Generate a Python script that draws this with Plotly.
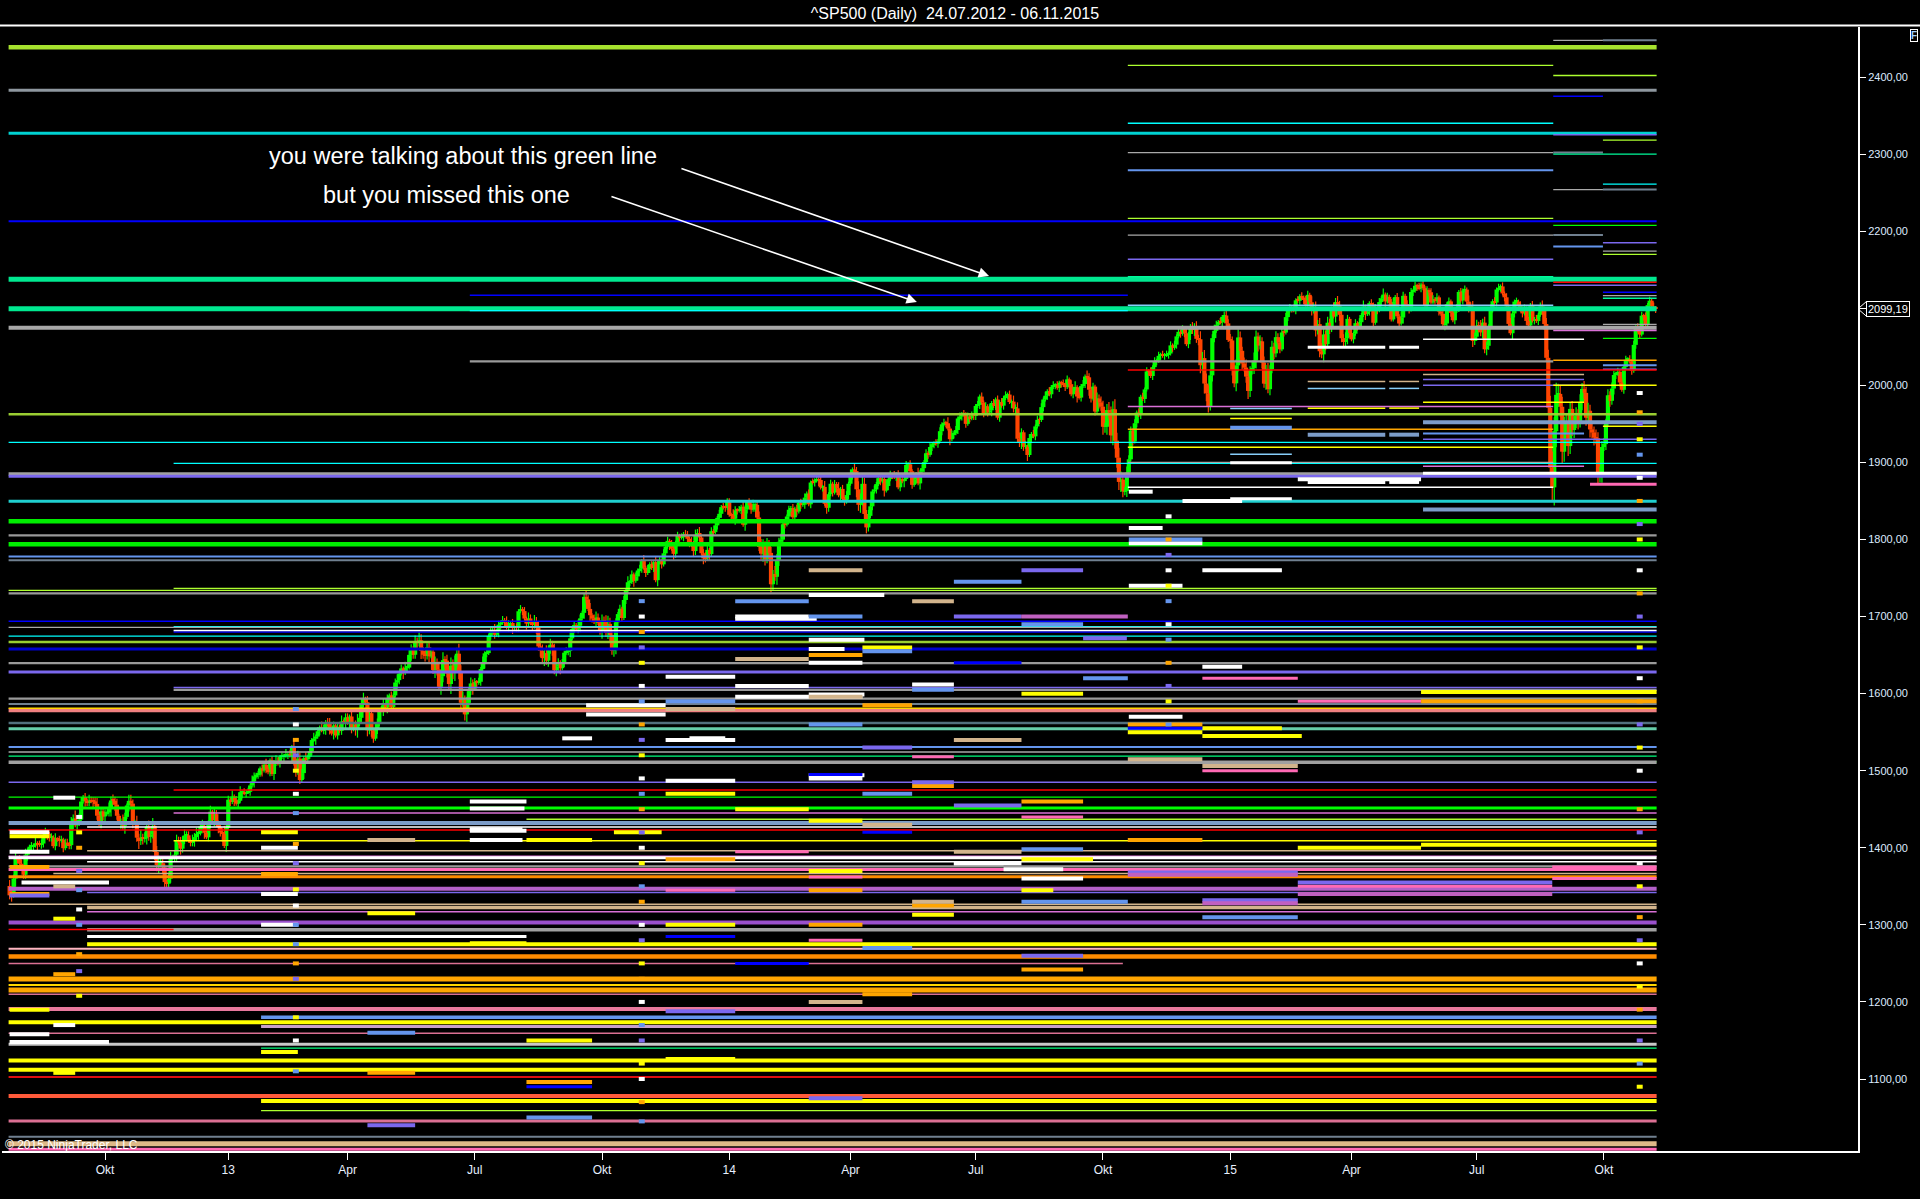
import pandas as pd
import plotly.graph_objects as go

# ---------------- data ----------------
START, END = "2012-07-24", "2015-11-06"
HOLIDAYS = ["2012-09-03", "2012-10-29", "2012-10-30", "2012-11-22", "2012-12-25",
            "2013-01-01", "2013-01-21", "2013-02-18", "2013-03-29", "2013-05-27", "2013-07-04",
            "2013-09-02", "2013-11-28", "2013-12-25",
            "2014-01-01", "2014-01-20", "2014-02-17", "2014-04-18", "2014-05-26", "2014-07-04",
            "2014-09-01", "2014-11-27", "2014-12-25",
            "2015-01-01", "2015-01-19", "2015-02-16", "2015-04-03", "2015-05-25", "2015-07-03",
            "2015-09-07"]

FIRST_OPEN = 1350.5
CLOSE_2012 = [
    1338.3, 1337.9, 1360.0, 1386.0, 1385.3, 1379.3,
    1375.1, 1365.0, 1391.0, 1394.2, 1401.4, 1402.2, 1402.8, 1405.9, 1404.1, 1403.9, 1405.5, 1415.5,
    1418.2, 1418.1, 1413.2, 1413.5, 1402.1, 1411.1, 1410.4, 1409.3, 1410.5, 1399.5, 1406.6,
    1404.9, 1403.4, 1432.1, 1437.9, 1429.1, 1433.6, 1436.6, 1460.0, 1465.8, 1461.2, 1459.3, 1461.1,
    1460.3, 1460.2, 1456.9, 1441.6, 1433.3, 1447.2, 1440.7,
    1444.5, 1445.8, 1451.0, 1461.4, 1460.9, 1455.9, 1441.5, 1432.6, 1432.8, 1428.6, 1440.1, 1454.9,
    1460.9, 1457.3, 1433.2, 1433.8, 1413.1, 1408.8, 1413.0, 1411.9, 1412.2,
    1427.6, 1414.2, 1417.3, 1428.4, 1394.5, 1377.5, 1379.9, 1380.0, 1374.5, 1355.5, 1353.3, 1359.9,
    1386.9, 1387.8, 1391.0, 1409.2, 1406.3, 1398.9, 1409.9, 1416.0, 1416.2,
    1409.5, 1407.1, 1409.3, 1413.9, 1418.1, 1418.6, 1427.8, 1428.5, 1419.5, 1413.6, 1430.4, 1446.8,
    1435.8, 1443.7, 1430.2, 1426.7, 1419.8, 1418.1, 1402.4, 1426.2]
CLOSE_2013 = [
    1462.4, 1459.4, 1466.5, 1461.9, 1457.2, 1461.0, 1472.1, 1472.1, 1470.7, 1472.3, 1472.6, 1480.9,
    1486.0, 1492.6, 1494.8, 1494.8, 1503.0, 1500.2, 1507.8, 1502.0, 1498.1,
    1513.2, 1495.7, 1511.3, 1512.1, 1509.4, 1517.9, 1518.0, 1519.4, 1520.3, 1521.4, 1519.8, 1530.9,
    1512.0, 1502.4, 1515.6, 1487.9, 1496.9, 1516.0, 1514.7,
    1518.2, 1525.2, 1539.8, 1541.5, 1544.3, 1551.2, 1556.2, 1552.5, 1554.5, 1563.2, 1560.7, 1552.1,
    1548.3, 1558.7, 1545.8, 1556.9, 1551.7, 1563.8, 1562.9, 1569.2,
    1562.2, 1570.3, 1553.7, 1560.0, 1553.3, 1563.1, 1568.6, 1587.7, 1593.4, 1588.9, 1552.4, 1574.6,
    1552.0, 1541.6, 1555.3, 1562.5, 1578.8, 1578.8, 1585.2, 1582.2, 1593.6, 1597.6,
    1582.7, 1597.6, 1614.4, 1617.5, 1626.0, 1632.7, 1626.7, 1633.7, 1633.8, 1650.3, 1658.8, 1650.5,
    1667.5, 1666.3, 1669.2, 1655.4, 1650.5, 1649.6, 1660.1, 1648.4, 1654.4, 1630.7,
    1640.4, 1631.4, 1608.9, 1622.6, 1643.4, 1642.8, 1626.1, 1612.5, 1636.4, 1626.7, 1639.0, 1651.8,
    1628.9, 1588.2, 1592.4, 1573.1, 1588.0, 1603.3, 1613.2, 1606.3,
    1615.0, 1614.1, 1615.4, 1631.9, 1640.5, 1652.3, 1652.6, 1675.0, 1680.2, 1682.5, 1676.3, 1680.9,
    1689.4, 1692.1, 1695.5, 1692.4, 1685.9, 1690.3, 1691.7, 1685.3, 1686.0, 1685.7,
    1706.9, 1709.7, 1707.1, 1697.4, 1690.9, 1697.5, 1691.4, 1689.5, 1694.2, 1685.4, 1661.3, 1655.8,
    1646.1, 1652.4, 1642.8, 1657.0, 1663.5, 1656.8, 1630.5, 1635.0, 1638.2, 1633.0,
    1639.8, 1653.1, 1655.1, 1655.2, 1671.7, 1684.0, 1689.1, 1683.4, 1688.0, 1697.6, 1704.8, 1725.5,
    1722.3, 1709.9, 1701.8, 1697.4, 1692.8, 1698.7, 1691.8, 1681.6,
    1695.0, 1693.9, 1678.7, 1690.5, 1676.1, 1655.5, 1656.4, 1692.6, 1703.2, 1710.1, 1698.1, 1721.5,
    1733.2, 1744.5, 1744.7, 1754.7, 1746.4, 1752.1, 1759.8, 1762.1, 1772.0, 1763.3, 1756.5,
    1761.6, 1767.9, 1763.0, 1770.5, 1747.2, 1770.6, 1771.9, 1767.7, 1782.0, 1790.6, 1798.2, 1791.5,
    1787.9, 1781.4, 1795.9, 1804.8, 1802.5, 1802.8, 1807.2, 1805.8,
    1800.9, 1795.2, 1792.8, 1785.0, 1805.1, 1808.4, 1802.6, 1782.2, 1775.5, 1775.3, 1786.5, 1781.0,
    1810.7, 1809.6, 1818.3, 1828.0, 1833.3, 1842.0, 1841.4, 1841.1, 1848.4]
CLOSE_2014 = [
    1832.0, 1831.4, 1826.8, 1837.9, 1837.5, 1838.1, 1842.4, 1819.2, 1838.9, 1848.4, 1845.9, 1838.7,
    1843.8, 1844.9, 1828.5, 1790.3, 1781.6, 1792.5, 1774.2, 1794.2, 1782.6,
    1741.9, 1755.2, 1751.6, 1773.4, 1797.0, 1799.8, 1819.8, 1819.3, 1829.8, 1838.6, 1840.8, 1828.8,
    1839.8, 1836.3, 1847.6, 1845.1, 1845.2, 1854.3, 1859.5,
    1845.7, 1873.9, 1873.8, 1877.0, 1878.0, 1877.2, 1867.6, 1868.2, 1846.3, 1841.1, 1858.8, 1872.3,
    1860.8, 1872.0, 1866.5, 1857.4, 1865.6, 1852.6, 1849.0, 1857.6, 1872.3,
    1885.5, 1890.9, 1888.8, 1865.1, 1845.0, 1852.0, 1872.2, 1833.1, 1815.7, 1830.6, 1843.0, 1862.3,
    1864.9, 1871.9, 1879.6, 1875.4, 1878.6, 1863.4, 1869.4, 1878.3, 1884.0,
    1883.7, 1881.1, 1884.7, 1867.7, 1878.2, 1875.6, 1878.5, 1896.7, 1897.5, 1888.5, 1870.9, 1877.9,
    1885.1, 1872.8, 1888.0, 1892.5, 1900.5, 1911.9, 1909.8, 1920.0, 1923.6,
    1925.0, 1924.2, 1927.9, 1940.5, 1949.4, 1951.3, 1950.8, 1943.9, 1930.1, 1936.2, 1937.8, 1942.0,
    1957.0, 1959.5, 1962.9, 1962.6, 1950.0, 1959.5, 1957.2, 1961.0, 1960.2,
    1973.3, 1974.6, 1985.4, 1977.7, 1963.7, 1972.8, 1964.7, 1967.6, 1977.1, 1973.3, 1981.6, 1958.1,
    1978.2, 1973.6, 1983.5, 1987.0, 1988.0, 1978.3, 1978.9, 1970.0, 1970.1, 1930.7,
    1925.2, 1939.0, 1920.2, 1920.2, 1909.6, 1931.6, 1936.9, 1933.8, 1946.7, 1955.2, 1955.1, 1971.7,
    1981.6, 1986.5, 1992.4, 1988.4, 1997.9, 2000.0, 2000.1, 1996.7, 2003.4,
    2002.3, 2000.7, 1997.7, 2007.7, 2001.5, 1988.4, 1995.7, 1997.5, 1985.5, 1984.1, 1999.0, 2001.6,
    2011.4, 2010.4, 1994.3, 1982.8, 1998.3, 1966.0, 1982.9, 1977.8, 1972.3,
    1946.2, 1946.2, 1967.9, 1964.8, 1935.1, 1968.9, 1928.2, 1906.1, 1874.7, 1877.7, 1862.5, 1862.8,
    1886.8, 1904.0, 1941.3, 1927.1, 1950.8, 1964.6, 1961.6, 1985.1, 1982.3, 1994.7, 2018.1,
    2017.8, 2012.1, 2023.6, 2031.2, 2032.0, 2038.3, 2039.7, 2038.3, 2039.3, 2039.8, 2041.3, 2051.8,
    2048.7, 2052.8, 2063.5, 2069.4, 2067.0, 2072.8, 2067.6,
    2053.4, 2066.6, 2074.3, 2071.9, 2075.4, 2060.3, 2059.8, 2026.1, 2035.3, 2002.3, 1989.6, 1972.7,
    2012.9, 2061.2, 2070.7, 2078.5, 2082.2, 2081.9, 2088.8, 2090.6, 2080.4, 2058.9]
CLOSE_2015 = [
    2058.2, 2020.6, 2002.6, 2025.9, 2062.1, 2044.8, 2028.3, 2023.0, 2011.3, 1992.7, 2019.4, 2022.6,
    2032.1, 2063.2, 2051.8, 2057.1, 2029.6, 2002.2, 2021.3, 1995.0,
    2020.9, 2050.0, 2041.5, 2062.5, 2055.5, 2046.7, 2068.6, 2068.5, 2088.5, 2097.0, 2100.3, 2099.7,
    2097.5, 2110.3, 2109.7, 2115.5, 2113.9, 2110.7, 2104.5,
    2117.4, 2107.8, 2098.5, 2101.0, 2071.3, 2079.4, 2044.2, 2040.2, 2066.0, 2053.4, 2081.2, 2074.3,
    2099.5, 2089.3, 2108.1, 2104.4, 2091.5, 2061.1, 2056.2, 2061.0, 2086.2, 2067.9,
    2059.7, 2067.0, 2080.6, 2076.3, 2081.9, 2091.2, 2102.1, 2092.4, 2095.8, 2106.6, 2105.0, 2081.2,
    2100.4, 2097.3, 2108.0, 2112.9, 2117.7, 2108.9, 2114.8, 2106.9, 2085.5,
    2108.3, 2114.5, 2089.5, 2080.2, 2088.0, 2116.1, 2105.3, 2099.9, 2098.5, 2121.1, 2122.7, 2129.2,
    2127.8, 2125.9, 2130.8, 2126.1, 2104.2, 2123.5, 2120.8, 2107.4,
    2111.7, 2109.6, 2114.1, 2095.8, 2092.8, 2079.3, 2080.2, 2105.2, 2108.9, 2094.1, 2084.4, 2096.3,
    2100.4, 2121.2, 2110.0, 2122.9, 2124.2, 2108.6, 2102.3, 2101.5, 2057.6, 2063.1,
    2077.4, 2076.8, 2068.8, 2081.3, 2046.7, 2051.3, 2076.6, 2099.6, 2109.0, 2107.4, 2124.3, 2126.6,
    2128.3, 2119.2, 2114.2, 2102.2, 2079.7, 2067.6, 2093.3, 2108.6, 2108.6, 2103.8,
    2098.0, 2093.3, 2099.8, 2083.6, 2077.6, 2104.2, 2084.1, 2086.1, 2083.4, 2091.5, 2102.4, 2096.9,
    2079.6, 2035.7, 1970.9, 1893.2, 1867.6, 1940.5, 1987.7, 1988.9, 1972.2,
    1913.9, 1948.9, 1951.1, 1921.2, 1969.4, 1942.0, 1952.3, 1961.1, 1953.0, 1978.1, 1995.3, 1990.2,
    1958.0, 1967.0, 1942.7, 1938.8, 1932.2, 1931.3, 1881.8, 1884.1, 1920.0,
    1923.8, 1951.4, 1987.1, 1979.9, 1995.8, 2013.4, 2014.9, 2017.5, 2003.7, 1994.2, 2023.9, 2033.1,
    2033.7, 2030.8, 2018.9, 2052.5, 2075.2, 2071.2, 2065.9, 2090.4, 2089.4, 2079.4,
    2104.1, 2109.8, 2102.3, 2099.9, 2099.19]

# wick sizes above / below the body, one digit per bar (unit: WICK_UNIT points)
WICK_UNIT = 2.6
WICK_UP = [
    "342312" "21321213122132121312212" "2132413212132223122" "213232312421332132423"
    "232423432213312323232" "21323213222313223242",
    "213121312121321212131" "1213212131213243213" "12131213212312121312" "2131243231322132123121"
    "2123121313213243232321" "32434232434353423232" "2121312121312121321212" "1212132132323242323232"
    "21213121321232312321" "32343232121213121212131" "21213121212132121212" "213232312321212121212",
    "213212132121312343232" "3243231212121212121" "212131213212121312121" "213243432321212121312"
    "121213121212131212121" "121212131212121212121" "1212121312121212121323" "321312121212121212121"
    "121212131212132121323" "32343454543232212121212" "1212121212121212121" "2123232434543232121232",
    "32434323432343232323" "2323212121212121212" "2132323432321323232321" "212121312121212131212"
    "21213212121212121212" "2121232121212121213232" "3232321212121212132121" "212121212123234687654"
    "545434343434343434343" "3232321212121212121212" "12121"]
WICK_DN = [
    "231423" "12231221312213221213121" "1223132213221312232" "312423213241323124232"
    "323243423323212313223" "12232312312223132413",
    "121312131212131213121" "2132121312132432132" "21213121231213121213" "1321342321323213213231"
    "1213213121322324232312" "43243423534243234323" "1212132121213212121312" "2121321323232423232323"
    "12123121231321321312" "43234232312121213121212" "12121312121213212121" "321323213213121212121",
    "121321213212131234323" "4324321212121212121" "121213121321212131212" "132434343212121213121"
    "212121312121213121212" "212121213121212121212" "2121212131212121213232" "232131212121212121212"
    "212121213121213212132" "43434545453232121212121" "2121212121212121212" "1232323435432321212321",
    "43243432343234323232" "3232121212121212121" "1232323243232132323232" "121212131212121213121"
    "12121321212121212121" "1212123212121212123232" "2323232121212121213212" "121212121212323579865"
    "654543434343434343434" "2323232121212121212121" "21212"]

Y_TICKS = [1100, 1200, 1300, 1400, 1500, 1600, 1700, 1800, 1900, 2000, 2100, 2200, 2300, 2400]
MONTH_LABELS = {4: "Apr", 7: "Jul", 10: "Okt"}

TITLE = "^SP500 (Daily)\u00a0 24.07.2012 - 06.11.2015"
NOTE_1 = "you were talking about this green line"
NOTE_2 = "but you missed this one"
COPYRIGHT = "© 2015 NinjaTrader, LLC"

# horizontal level lines: (price, first bar, last bar), grouped by style key
A, E = -0.5, 828.5
SEGMENTS = {
    "gy_top": [(2438.5, A, E)],
    "gray_a": [(2382.7, A, E)],
    "cyan_a": [(2327, A, E)],
    "blue_a": [(2212.8, A, E)],
    "msg_a": [(2137.5, A, E), (2099.4, A, E)],
    "gray_b": [(2074.8, A, E)],
    "yg": [(1962.4, A, E), (1667, A, E)],
    "yg_t": [(2415, 562.5, 776.5), (2402, 776.5, E), (2318, 801.5, E), (2216.7, 562.5, 776.5),
             (2170, 801.5, E), (1736.6, 82.5, E), (1734, A, E), (1059, 126.5, E), (1437, 260, E)],
    "cyan_t": [(2340, 562.5, 776.5), (2261, 801.5, E), (2097, 231.5, 562.5), (1926, A, E),
               (1898.8, 82.5, E), (1687, 82.5, E), (1674.6, A, E)],
    "turq": [(1849.5, A, E)],
    "lime_k": [(1823.6, A, E), (1793.7, A, E)],
    "lime_m": [(1451.6, A, E)],
    "lime_t": [(2207.6, 776.5, E), (2061, 801.5, E), (1511.5, 82.5, E), (1465.6, A, E)],
    "gray_m": [(1805.4, A, E), (1730, A, E), (1639.7, A, E), (1593.5, A, E), (1605, 82.5, E),
               (2031, 231.5, 776.5), (1376, A, E)],
    "gray_t": [(2447.6, 776.5, 801.5), (2302, 562.5, 776.5), (2254, 776.5, 801.5), (2195, 562.5, 776.5),
               (2174, 801.5, E), (2116.3, 801.5, E), (2079, 801.5, E), (1686, A, E), (1524.3, A, E),
               (1900, 562.5, 776.5)],
    "gray_k": [(1885, A, E), (1511, A, E), (1293.7, 39, E)],
    "slg": [(1773, A, E), (1586.7, A, E), (1025, A, E), (2447.6, 801.5, E), (2302, 776.5, 801.5),
            (2195, 776.5, 801.5), (2254, 801.5, E)],
    "corn": [(1778, A, E), (1530.8, A, E), (2279, 562.5, 776.5), (2180, 776.5, 801.5), (2026, 801.5, E),
             (1937.6, 711, 792)],
    "slate": [(1882, A, E), (1628, A, E)],
    "slate_t": [(2325, 776.5, E), (2185, 801.5, E), (2163.5, 562.5, 776.5), (2129.8, 776.5, E),
                (2021, 801.5, E), (1608, 82.5, E), (1485, A, E), (2007.6, 711, 792), (2000, 711, 792),
                (1930, 711, E), (1342, 39, E)],
    "blue_t": [(2375, 776.5, 801.5), (2120.7, 801.5, E), (2117, 231.5, 562.5), (1680, 82.5, E),
               (1694, A, E)],
    "mblue": [(1658, A, E)],
    "msg_t": [(2300, 776.5, E), (2141, 562.5, 776.5), (2113, 801.5, E)],
    "lblue_t": [(2103.8, 562.5, 776.5), (1996, 653, 692), (1996, 694, 709), (1970, 614, 645),
                (1910.6, 614, 645)],
    "red_t": [(2133.6, 776.5, E), (2020, 562.5, E), (1475, 82.5, E), (1423, A, E), (1293.9, A, 82.5)],
    "orchid_t": [(2071, 776.5, E), (1972.6, 562.5, 776.5), (1895, 711, 792), (1445, 82.5, E),
                 (1317, 39, E), (1389, A, E)],
    "white_t": [(2059.7, 711, 792), (1682, 82.5, E), (1867.7, 562.5, 776.5), (1427, 39, E),
                (1382, 39, E)],
    "white_k": [(2049.4, 653, 692), (2049.4, 694, 709), (1886, 711, E), (1874, 653, 692),
                (1874, 694, 709), (1853, 614, 645), (1899.7, 614, 645), (1387, A, E), (1285, 39, 260)],
    "orange_t": [(2032.5, 776.5, E), (1943, 562.5, 776.5)],
    "yellow_t": [(2000, 776.5, E), (1970.4, 653, 692), (1970.4, 694, 709), (1957, 614, 645),
                 (1947, 801.5, E), (1919.6, 562.5, 776.5), (1978, 711, 792), (1409, 82.5, E)],
    "tan_t": [(2014, 711, 792), (2005, 653, 692), (2005, 694, 709), (1326.7, A, E), (1396, 39, E),
              (1366.6, 22, E)],
    "lsb": [(1952, 711, E), (1936, 653, 692), (1936, 694, 709), (1839, 711, E), (1432, A, E)],
    "lcoral": [(1578.4, A, E)],
    "gold_t": [(1581, A, E)],
    "dslate": [(1562, A, E)],
    "maq": [(1554.5, A, E)],
    "sg_t": [(1519, A, E), (1140, 126.5, E)],
    "hotpink": [(1371.8, A, E), (1871.6, 795, E)],
    "dorange": [(1362.3, A, E)],
    "violet": [(1346.7, A, E)],
    "tan_k": [(1322.4, 39, E)],
    "morchid": [(1303, A, E)],
    "lpink": [(1269, A, E)],
    "dorange_k": [(1258.8, A, E)],
    "orange_k": [(1229.6, A, E), (1215.6, A, E)],
    "gold": [(1222, A, E)],
    "pvred_t": [(1210, A, E), (1159.5, A, E), (1250, A, 560)],
    "pink_k": [(1190.7, A, E)],
    "yellow_k": [(1173.8, A, E), (1124, A, E), (1112, A, E), (1275, 39, E), (1071.5, 126.5, E),
                 (1404, 710, E)],
    "silver": [(1145.2, A, E)],
    "red_m": [(1102.5, A, E)],
    "ored": [(1078, A, E)],
    "pvred": [(1045.5, A, E)],
    "burly": [(1016, A, E)],
    "hpink_k": [(1009, A, E)],
    "corn_k": [(1180, 126.5, E)],
    "plum": [(1168, 126.5, E)],
    "white_d": [(1700, 365, 402), (1596, 365, 429), (1542, 278, 293), (1460, 231.5, 260),
                (1422, 231.5, 260), (1410, 231.5, 258), (1640, 402, 429), (1612, 454, 475),
                (1658, 402, 420), (1728, 402, 440), (1400, 126.5, 145), (1340, 126.5, 145),
                (1355, 6, 50), (1148, 0, 50), (1380, 475, 509), (1360, 509, 540), (1573, 290, 330),
                (1540, 330, 365), (1490, 402, 429), (1610, 365, 402), (1622, 330, 365),
                (1697, 365, 406), (1670, 402, 430), (1599, 402, 430), (1542, 342, 360),
                (1494, 402, 430), (1451, 231.5, 259), (1424, 231.5, 258), (1380, 475, 500),
                (1372, 500, 530), (1850, 590, 620), (1862, 563, 575), (1878, 648, 710),
                (1815, 563, 580), (1795, 563, 600), (1760, 600, 640), (1740, 563, 590),
                (1635, 600, 620), (1570, 563, 590), (1585, 290, 330), (1487, 330, 365),
                (1300, 126.5, 145), (1420, 0, 20), (1395, 0, 20), (1158, 0, 20), (1170, 22, 33),
                (1465, 22, 33)],
    "yellow_d": [(1410, 260, 293), (1420, 304, 328), (1470, 330, 365), (1450, 365, 402),
                 (1345, 509, 525), (1313, 454, 475), (1370, 402, 429), (1550, 562.5, 600),
                 (1545, 600, 650), (1400, 648, 710), (1126, 330, 365), (1135, 126.5, 145),
                 (1420, 126.5, 145), (1315, 180, 204), (1276, 231.5, 260), (1602, 710, E),
                 (1660, 429, 454), (1600, 509, 540), (1555, 600, 640), (1435, 402, 429),
                 (1385, 509, 545), (1300, 330, 365), (1150, 260, 293), (1415, 0, 20), (1308, 22, 33),
                 (1190, 0, 20), (1108, 22, 33)],
    "orange_d": [(1385, 330, 365), (1345, 402, 429), (1210, 429, 454), (1325, 454, 475),
                 (1560, 562.5, 600), (1242, 509, 540), (1096, 260, 293), (1108, 180, 204),
                 (1366, 126.5, 145), (1590, 710, E), (1650, 402, 429), (1585, 429, 454),
                 (1480, 454, 475), (1460, 509, 540), (1410, 562.5, 600), (1300, 402, 429),
                 (1375, 0, 20), (1236, 22, 33), (1340, 0, 20)],
    "blue_d": [(1495, 402, 429), (1420, 429, 454), (1555, 562.5, 600), (1640, 475, 509),
               (1285, 330, 365), (1250, 365, 402), (1090, 260, 293)],
    "corn_d": [(1700, 402, 429), (1655, 429, 454), (1605, 454, 475), (1330, 509, 562.5),
               (1270, 429, 454), (1590, 330, 365), (1720, 365, 402), (1160, 180, 204), (1050, 260, 293),
               (1745, 475, 509), (1690, 509, 540), (1620, 540, 562.5), (1560, 402, 429),
               (1470, 429, 454), (1398, 509, 540), (1310, 600, 648), (1800, 563, 600), (1945, 614, 645)],
    "tan_d": [(1580, 330, 365), (1645, 365, 402), (1596, 402, 429), (1515, 562.5, 600),
              (1506, 600, 648), (1200, 402, 429), (1410, 180, 204), (1330, 454, 475),
              (1760, 402, 429), (1720, 454, 475), (1540, 475, 509), (1430, 429, 454),
              (1395, 475, 509), (1350, 22, 33)],
    "pink_d": [(1518, 454, 475), (1395, 365, 402), (1345, 330, 365), (1280, 402, 429),
               (1590, 648, 710), (1350, 648, 776), (1375, 776, E), (1360, 776, E),
               (1700, 509, 560), (1620, 600, 648), (1500, 600, 648), (1440, 509, 540), (1362, 402, 429)],
    "slate_d": [(1530, 429, 454), (1700, 475, 509), (1368, 562.5, 648), (1355, 648, 776),
                (1332, 600, 648), (1188, 330, 365), (1075, 402, 429), (1040, 180, 204),
                (1760, 509, 540), (1672, 540, 562), (1485, 454, 475), (1455, 475, 509),
                (1260, 509, 540), (1338, 0, 20)],
    "orchid_d": [(1328, 600, 648), (1365, 562.5, 648), (1340, 648, 776), (1700, 509, 562.5)],
}

# short pivot marks: (bar, price)
DOTS = {
    "white": [(35, 1440), (35, 1320), (144, 1560), (144, 1470), (144, 1325), (144, 1150), (318, 1700),
              (318, 1610), (318, 1490), (318, 1400), (318, 1300), (318, 1200), (318, 1100), (583, 1830),
              (583, 1760), (583, 1690), (820, 1990), (820, 1880), (820, 1760), (820, 1620), (820, 1500),
              (820, 1380), (820, 1250)],
    "orange": [(35, 1400), (35, 1262), (144, 1540), (144, 1405), (144, 1250), (318, 1680), (318, 1560),
               (318, 1450), (318, 1330), (318, 1230), (318, 1070), (583, 1800), (583, 1640), (820, 1965),
               (820, 1850), (820, 1730), (820, 1590), (820, 1450), (820, 1310), (820, 1190)],
    "slate": [(35, 1370), (35, 1240), (144, 1520), (144, 1380), (144, 1230), (318, 1660), (318, 1540),
              (318, 1420), (318, 1280), (318, 1150), (583, 1780), (583, 1610), (820, 1950), (820, 1820),
              (820, 1700), (820, 1560), (820, 1420), (820, 1280), (820, 1150)],
    "yellow": [(35, 1420), (35, 1208), (144, 1500), (144, 1346), (144, 1180), (318, 1640), (318, 1520),
               (318, 1380), (318, 1250), (318, 1120), (583, 1740), (583, 1590), (820, 1930), (820, 1800),
               (820, 1660), (820, 1530), (820, 1350), (820, 1220), (820, 1090)],
    "corn": [(35, 1345), (35, 1300), (144, 1580), (144, 1445), (144, 1300), (144, 1275), (144, 1110),
             (318, 1720), (318, 1590), (318, 1470), (318, 1350), (318, 1170), (318, 1045), (583, 1720),
             (583, 1670), (583, 1560), (820, 1910), (820, 1120)],
}

# ---------------- styles ----------------
STYLES = {
    "gy_top": ("#A6E22E", 4.5), "gray_a": ("#8E979F", 3), "cyan_a": ("#00D2D2", 3),
    "blue_a": ("#0000FF", 2), "msg_a": ("#00E890", 5), "gray_b": ("#A8A8A8", 4),
    "yg": ("#9ACD32", 2.5), "yg_t": ("#ADFF2F", 1.3), "cyan_t": ("#00FFFF", 1.3),
    "turq": ("#20D0D0", 3), "lime_k": ("#00EE00", 4.5), "lime_m": ("#00FF00", 3),
    "lime_t": ("#00FF00", 1.3), "gray_m": ("#9A9A9A", 2.2), "gray_t": ("#A9A9A9", 1.3),
    "gray_k": ("#A0A0A0", 3.5), "slg": ("#708090", 2), "corn": ("#6495ED", 2),
    "slate": ("#7B68EE", 3), "slate_t": ("#7B68EE", 1.5), "blue_t": ("#0000FF", 1.5),
    "mblue": ("#0000CD", 3), "msg_t": ("#00FA9A", 1.3), "lblue_t": ("#87CEFA", 1.5),
    "red_t": ("#FF0000", 1.5), "orchid_t": ("#DA70D6", 1.5), "white_t": ("#FFFFFF", 1.5),
    "white_k": ("#FFFFFF", 3), "orange_t": ("#FFA500", 1.5), "yellow_t": ("#FFFF00", 1.5),
    "tan_t": ("#D2B48C", 1.5), "lsb": ("#7C9CC8", 4), "lcoral": ("#F08080", 4),
    "gold_t": ("#FFD700", 1.5), "dslate": ("#52707E", 2.5), "maq": ("#66CDAA", 3),
    "sg_t": ("#00FF7F", 1.3), "hotpink": ("#FF69B4", 3), "dorange": ("#FF8C00", 3),
    "violet": ("#B460C8", 4), "tan_k": ("#D2B48C", 3.5), "morchid": ("#9A50CC", 4),
    "lpink": ("#FFB6C1", 2), "dorange_k": ("#FF8C00", 4.5), "orange_k": ("#FFA500", 5),
    "gold": ("#FFD700", 2), "pvred_t": ("#DB7093", 1.5), "pink_k": ("#E8789C", 4),
    "yellow_k": ("#FFFF00", 4), "silver": ("#C8C8C8", 3), "red_m": ("#DD1010", 2),
    "ored": ("#FF5A3A", 4), "pvred": ("#DB7093", 3), "burly": ("#DEB887", 5),
    "hpink_k": ("#FF69B4", 3), "corn_k": ("#6495ED", 3.5), "plum": ("#C8A0C8", 3),
    "white_d": ("#FFFFFF", 4), "yellow_d": ("#FFFF00", 4), "orange_d": ("#FFA500", 4),
    "blue_d": ("#0000FF", 3), "corn_d": ("#6495ED", 4), "tan_d": ("#D2B48C", 4),
    "pink_d": ("#FF69B4", 3), "slate_d": ("#7B68EE", 4), "orchid_d": ("#C060C0", 4),
}
DOT_STYLES = {"white": "#FFFFFF", "orange": "#FFA500", "slate": "#7B68EE", "yellow": "#FFFF00",
              "corn": "#6495ED"}
DOT_LEN, DOT_W = 1.5, 4
FONT = "Arial, 'Liberation Sans', sans-serif"
UP_COLOR, DOWN_COLOR = "#00FF00", "#FF4500"
BODY_W = 2.1          # candle body width in bars
MIN_BODY = 1.2        # minimum drawn body height (points)

# ---------------- build ----------------
closes = CLOSE_2012 + CLOSE_2013 + CLOSE_2014 + CLOSE_2015
up = "".join(WICK_UP)
dn = "".join(WICK_DN)
dates = [d for d in pd.bdate_range(START, END) if d.strftime("%Y-%m-%d") not in HOLIDAYS]
assert len(dates) == len(closes) == len(up) == len(dn), (len(dates), len(closes), len(up), len(dn))

opens = [FIRST_OPEN] + closes[:-1]
highs = [max(o, c) + int(w) * WICK_UNIT for o, c, w in zip(opens, closes, up)]
lows = [min(o, c) - int(w) * WICK_UNIT for o, c, w in zip(opens, closes, dn)]

tickvals, ticktext = [], []
for i in range(1, len(dates)):
    d, p = dates[i], dates[i - 1]
    if d.month != p.month and d.month in (1, 4, 7, 10):
        tickvals.append(i)
        ticktext.append(d.strftime("%y") if d.month == 1 else MONTH_LABELS[d.month])

fig = go.Figure()

# candle bodies (bars) and wicks (lines)
for is_up, color in ((True, UP_COLOR), (False, DOWN_COLOR)):
    sel = [i for i in range(len(closes)) if (closes[i] >= opens[i]) == is_up]
    fig.add_trace(go.Bar(
        x=sel, y=[max(abs(closes[i] - opens[i]), MIN_BODY) for i in sel],
        base=[min(closes[i], opens[i]) for i in sel], width=BODY_W,
        marker=dict(color=color, line=dict(width=0)), hoverinfo="skip", showlegend=False))
    wx, wy = [], []
    for i in sel:
        wx += [i, i, None]
        wy += [lows[i], highs[i], None]
    fig.add_trace(go.Scatter(x=wx, y=wy, mode="lines", line=dict(color=color, width=1.2),
                             hoverinfo="skip", showlegend=False))

for key, segs in SEGMENTS.items():
    color, width = STYLES[key]
    xs, ys = [], []
    for price, b0, b1 in segs:
        xs += [b0, b1, None]
        ys += [price, price, None]
    fig.add_trace(go.Scatter(x=xs, y=ys, mode="lines", line=dict(color=color, width=width),
                             hoverinfo="skip", showlegend=False))

for key, pts in DOTS.items():
    xs, ys = [], []
    for b, price in pts:
        xs += [b - DOT_LEN, b + DOT_LEN, None]
        ys += [price, price, None]
    fig.add_trace(go.Scatter(x=xs, y=ys, mode="lines", line=dict(color=DOT_STYLES[key], width=DOT_W),
                             hoverinfo="skip", showlegend=False))

# layout geometry
W, H = 1920, 1199
ML, MR, MT, MB = 2, 62, 27, 48
X_RANGE = [-3.82, 929.8]
Y_RANGE = [1006.6, 2464.9]
plot_w = W - ML - MR
plot_h = H - MT - MB
last = closes[-1]
u_per_px = (Y_RANGE[1] - Y_RANGE[0]) / plot_h
px = 1.0 / plot_w

annotations = [
    dict(x=228, y=2298, xref="x", yref="y", text=NOTE_1, showarrow=False,
         font=dict(family=FONT, size=23.5, color="white")),
    dict(x=220, y=2247, xref="x", yref="y", text=NOTE_2, showarrow=False,
         font=dict(family=FONT, size=23.5, color="white")),
    dict(x=492.7, y=2141.8, ax=337.2, ay=2281.9, xref="x", yref="y", axref="x", ayref="y",
         text="", showarrow=True, arrowhead=2, arrowsize=1.3, arrowwidth=1.6, arrowcolor="white"),
    dict(x=456.4, y=2108, ax=302, ay=2245.6, xref="x", yref="y", axref="x", ayref="y",
         text="", showarrow=True, arrowhead=2, arrowsize=1.3, arrowwidth=1.6, arrowcolor="white"),
    dict(x=1 + 8 * px, y=last, xref="paper", yref="y", xanchor="left", yanchor="middle",
         text=f"{last:.2f}".replace(".", ","), showarrow=False, bgcolor="black",
         bordercolor="white", borderwidth=1, borderpad=1,
         font=dict(family=FONT, size=11, color="white")),
    dict(x=1 + 60 * px, y=1 - 2 / plot_h, xref="paper", yref="paper", xanchor="right", yanchor="top",
         text="<b>F</b>", showarrow=False, bgcolor="black", bordercolor="white", borderwidth=1,
         borderpad=0, font=dict(family=FONT, size=10, color="#9FD0FF")),
    dict(x=0, y=0, xref="paper", yref="paper", xanchor="left", yanchor="bottom", xshift=1, yshift=-3,
         text=COPYRIGHT, showarrow=False, font=dict(family=FONT, size=12, color="white")),
]

shapes = [
    dict(type="line", xref="paper", yref="paper", x0=-ML * px, x1=1 + MR * px, y0=1 + 1.5 / plot_h,
         y1=1 + 1.5 / plot_h, line=dict(color="white", width=2)),
    dict(type="line", xref="paper", yref="y", x0=1, x1=1 + 8 * px, y0=last, y1=last + 7 * u_per_px,
         line=dict(color="white", width=1)),
    dict(type="line", xref="paper", yref="y", x0=1, x1=1 + 8 * px, y0=last, y1=last - 7 * u_per_px,
         line=dict(color="white", width=1)),
]

fig.update_layout(
    width=W, height=H, margin=dict(l=ML, r=MR, t=MT, b=MB),
    paper_bgcolor="black", plot_bgcolor="black", showlegend=False, barmode="overlay",
    font=dict(family=FONT, color="white"),
    title=dict(text=TITLE, x=955 / W, xref="container", xanchor="center",
               y=1 - 13 / H, yref="container", yanchor="middle",
               font=dict(family=FONT, size=16, color="white")),
    xaxis=dict(range=X_RANGE, tickmode="array", tickvals=tickvals, ticktext=ticktext,
               ticks="outside", ticklen=7, tickcolor="white", tickwidth=1,
               showgrid=False, zeroline=False, showline=True, linecolor="white", linewidth=2,
               tickfont=dict(family=FONT, size=12, color="#E8F0FF"), fixedrange=True),
    yaxis=dict(range=Y_RANGE, side="right", tickmode="array", tickvals=Y_TICKS,
               ticktext=[f"{v},00" for v in Y_TICKS], ticks="outside", ticklen=6, tickcolor="white",
               showgrid=False, zeroline=False, showline=True, linecolor="white", linewidth=2,
               tickfont=dict(family=FONT, size=11, color="#DDEBFF"), fixedrange=True),
    annotations=annotations, shapes=shapes,
)

fig.write_html("out.html", config={"displayModeBar": False},
               post_script="document.body.style.margin='0';document.body.style.background='#000';")
